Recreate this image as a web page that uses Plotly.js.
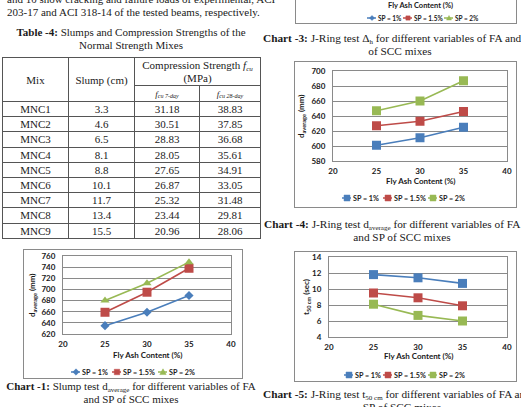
<!DOCTYPE html>
<html><head><meta charset="utf-8">
<script src="https://cdn.plot.ly/plotly-3.0.1.min.js"></script>
<style>
html,body{margin:0;padding:0;background:#fff}
body{width:521px;height:407px;overflow:hidden;position:relative;font-family:'Liberation Serif','Times New Roman',serif;color:#1a1a1a}
.t{position:absolute;white-space:nowrap;font-size:11px;line-height:13px}
.rt{font-size:11.3px}
.ctr{text-align:center}
.sb{font-size:7px;position:relative;top:2px;line-height:7px}
.frame{position:absolute;border:1px solid #8a8a8a;box-sizing:border-box;pointer-events:none}
.plot{position:absolute}
#tbl{position:absolute;left:2px;top:57px;border-collapse:collapse;table-layout:fixed;font-size:11px;width:258px}
#tbl td{border:1px solid #555;padding:0;text-align:center;font-weight:normal;line-height:12px;overflow:hidden;white-space:nowrap}
#tbl .hd{line-height:13px}
#tbl .sh{font-size:9px;font-style:italic}
#tbl .sh .sb{font-size:6px;top:1px}
</style></head>
<body>
<div class="t" style="left:7px;top:-7px;width:244px;text-align:justify;text-align-last:justify">and 10 show cracking and failure loads of experimental, ACI</div>
<div class="t" style="left:7px;top:6px">203-17 and ACI 318-14 of the tested beams, respectively.</div>
<div class="t ctr" style="left:0;top:26px;width:262px"><b>Table -4:</b> Slumps and Compression Strengths of the</div>
<div class="t ctr" style="left:0;top:39px;width:262px">Normal Strength Mixes</div>
<table id="tbl"></table>

<div class="t ctr" style="left:0;top:380px;width:262px"><b>Chart -1:</b> Slump test d<span class="sb">average</span> for different variables of FA</div>
<div class="t ctr" style="left:0;top:393px;width:262px">and SP of SCC mixes</div>

<div class="t rt" style="left:263px;top:32px"><b>Chart -3:</b> J-Ring test &Delta;<span class="sb">h</span> for different variables of FA and SP</div>
<div class="t rt ctr" style="left:300px;top:45px;width:200px">of SCC mixes</div>

<div class="t rt" style="left:264px;top:218px"><b>Chart -4:</b> J-Ring test d<span class="sb">average</span> for different variables of FA and</div>
<div class="t rt ctr" style="left:302px;top:231px;width:200px">and SP of SCC mixes</div>

<div class="t rt" style="left:263px;top:388px"><b>Chart -5:</b> J-Ring test t<span class="sb">50 cm</span> for different variables of FA and</div>
<div class="t rt ctr" style="left:302px;top:401px;width:200px">SP of SCC mixes</div>

<script>
// ---- Table data ----
const mixes=['MNC1','MNC2','MNC3','MNC4','MNC5','MNC6','MNC7','MNC8','MNC9'];
const slumps=[3.3,4.6,6.5,8.1,8.8,10.1,11.7,13.4,15.5];
const fcu7=[31.18,30.51,28.83,28.05,27.65,26.87,25.32,23.44,20.96];
const fcu28=[38.83,37.85,36.68,35.61,34.91,33.05,31.48,29.81,28.06];

// ---- Chart data ----
const fa=[25,30,35];
const seriesNames=['SP = 1%','SP = 1.5%','SP = 2%'];
const slumpSP1=[635,659,689], slumpSP15=[659,695,738], slumpSP2=[680,711,749];
const jrDhSP1=[null,null,null], jrDhSP15=[null,null,null], jrDhSP2=[null,null,null];
const jrDSP1=[601,611,625], jrDSP15=[627,633,646], jrDSP2=[647,660,687];
const jrTSP1=[11.8,11.4,10.7], jrTSP15=[9.5,8.9,7.9], jrTSP2=[8.1,6.7,6.0];
const xTitle='Fly Ash Content (%)';
const colors=['#4a7ebb','#be4b48','#98b954'];

// build table
(function(){
  const t=document.getElementById('tbl');
  let h='<colgroup><col style="width:66px"><col style="width:66px"><col style="width:65px"><col style="width:61px"></colgroup>';
  h+='<tr style="height:28px"><td rowspan="2">Mix</td><td rowspan="2">Slump (cm)</td><td class="hd" colspan="2">Compression Strength <i>f<span class="sb">cu</span></i><br>(MPa)</td></tr>';
  h+='<tr style="height:16px"><td class="sh">f<span class="sb">cu 7-day</span></td><td class="sh">f<span class="sb">cu 28-day</span></td></tr>';
  for(let i=0;i<mixes.length;i++){
    h+='<tr style="height:15.2px"><td>'+mixes[i]+'</td><td>'+slumps[i].toFixed(1)+'</td><td>'+fcu7[i].toFixed(2)+'</td><td>'+fcu28[i].toFixed(2)+'</td></tr>';
  }
  t.innerHTML=h;
})();

function makeChart(c){
  const div=document.createElement('div');
  div.className='plot';
  div.style.left=c.left+'px';div.style.top=c.top+'px';
  document.body.appendChild(div);
  const fr=document.createElement('div');
  fr.className='frame';
  fr.style.left=c.left+'px';fr.style.top=c.top+'px';fr.style.width=c.W+'px';fr.style.height=c.H+'px';
  document.body.appendChild(fr);
  const m=c.m, pw=c.W-m.l-m.r, ph=c.H-m.t-m.b;
  const px=x=>(x-m.l)/pw, py=y=>1-(y-m.t)/ph;
  const traces=c.ys.map((y,i)=>({x:fa,y:y,type:'scatter',mode:'lines+markers',name:seriesNames[i],
    line:{color:colors[i],width:1.6},marker:{symbol:c.symbols[i],size:c.sizes[i],color:colors[i]},cliponaxis:false,hoverinfo:'skip'}));
  const font={family:'Lato, "DejaVu Sans", sans-serif',size:c.fs||8,color:'#1a1a1a',weight:700};
  const lfont=Object.assign({},font,{size:c.lfs||7.2});
  const ann=[], shapes=[];
  ann.push({xref:'paper',yref:'paper',x:px(m.l+pw/2),y:py(c.xTitleY),text:xTitle,showarrow:false,xanchor:'center',yanchor:'middle',font:font});
  if(c.ytitle) ann.push({xref:'paper',yref:'paper',x:px(c.yTitleX),y:py(m.t+ph/2),text:c.ytitle,textangle:-90,showarrow:false,xanchor:'center',yanchor:'middle',font:font});
  // legend (Excel style)
  const ly=c.legY;
  c.legX.forEach((sx,i)=>{
    const col=colors[i];
    shapes.push({type:'line',xref:'paper',yref:'paper',x0:px(sx-5),x1:px(sx+4),y0:py(ly),y1:py(ly),line:{color:col,width:1.5}});
    const s=c.legSize, sym=c.legSym[i];
    let path;
    if(sym==='diamond') path=[[sx,ly-s],[sx+s,ly],[sx,ly+s],[sx-s,ly]];
    else if(sym==='triangle') path=[[sx,ly-s],[sx+s,ly+s*0.8],[sx-s,ly+s*0.8]];
    else path=[[sx-s*0.85,ly-s*0.85],[sx+s*0.85,ly-s*0.85],[sx+s*0.85,ly+s*0.85],[sx-s*0.85,ly+s*0.85]];
    const d='M'+path.map(p=>px(p[0])+','+py(p[1])).join(' L')+' Z';
    shapes.push({type:'path',xref:'paper',yref:'paper',path:d,fillcolor:col,line:{color:col,width:0.5}});
    ann.push({xref:'paper',yref:'paper',x:px(sx+4),y:py(ly),text:seriesNames[i],showarrow:false,xanchor:'left',yanchor:'middle',font:lfont});
  });
  const layout={width:c.W,height:c.H,margin:{l:m.l,r:m.r,t:m.t,b:m.b,pad:0},paper_bgcolor:'#fff',plot_bgcolor:'#fff',
    font:font,showlegend:false,
    xaxis:{range:[20,40],tickvals:[20,25,30,35,40],showgrid:false,showline:true,linecolor:'#8a8a8a',linewidth:1,mirror:true,ticks:'outside',ticklen:2,tickcolor:'rgba(0,0,0,0)',zeroline:false,fixedrange:true,tickfont:font},
    yaxis:{range:c.yrange,dtick:c.dtick,showgrid:true,gridcolor:'#8a8a8a',gridwidth:1,showline:true,linecolor:'#8a8a8a',linewidth:1,mirror:true,ticks:'outside',ticklen:5,tickcolor:'rgba(0,0,0,0)',zeroline:false,fixedrange:true,tickfont:font},
    annotations:ann,shapes:shapes};
  Plotly.newPlot(div,traces,layout,{staticPlot:true,displayModeBar:false});
}

// Chart 1
makeChart({left:23,top:249,W:220,H:130,m:{l:40,r:12,t:7,b:45},ys:[slumpSP1,slumpSP15,slumpSP2],
  yrange:[620,760],dtick:20,ytitle:'d<sub>average</sub> (mm)',yTitleX:9,symbols:['diamond','square','triangle-up'],sizes:[7,9,8],
  xTitleY:106,legY:123,legX:[53,94,140],legSym:['diamond','square','triangle'],legSize:3.2});
// Chart 3 (only bottom visible)
makeChart({left:295,top:-126,W:222,H:150,m:{l:39,r:10,t:10,b:48},ys:[jrDhSP1,jrDhSP15,jrDhSP2],
  yrange:[0,10],dtick:2,ytitle:null,yTitleX:8,symbols:['diamond','square','triangle-up'],sizes:[6,7,7],
  xTitleY:131,legY:144,legX:[77,113,154],legSym:['diamond','square','triangle'],legSize:2.5,fs:7.5,lfs:6.5});
// Chart 4
makeChart({left:294,top:61,W:223,H:147,m:{l:39,r:10,t:10,b:47},ys:[jrDSP1,jrDSP15,jrDSP2],
  yrange:[580,700],dtick:20,ytitle:'d<sub>average</sub> (mm)',yTitleX:7,symbols:['square','square','square'],sizes:[9,9,9],
  xTitleY:120,legY:137,legX:[53,94,139],legSym:['square','square','square'],legSize:3.5});
// Chart 5
makeChart({left:294,top:251,W:223,H:131,m:{l:35,r:10,t:6,b:45},ys:[jrTSP1,jrTSP15,jrTSP2],
  yrange:[4,14],dtick:2,ytitle:'t<sub>50 cm</sub> (sec)',yTitleX:12,symbols:['square','square','square'],sizes:[9,9,9],
  xTitleY:105,legY:124,legX:[55,94,139],legSym:['square','square','square'],legSize:3.5});
</script>
</body></html>
